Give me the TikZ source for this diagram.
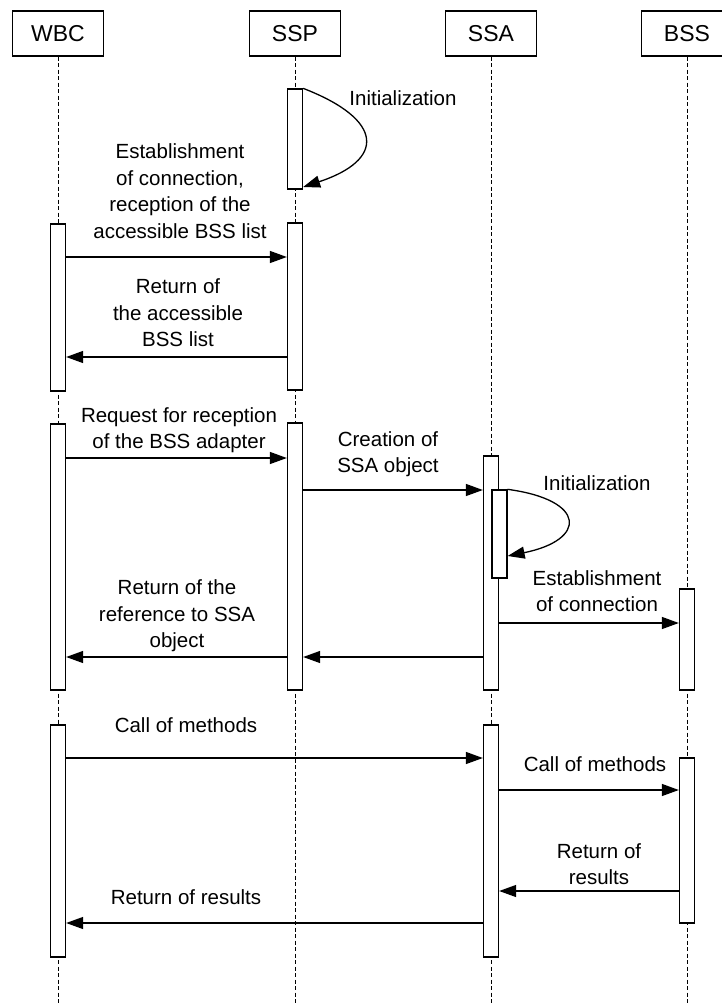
\documentclass[tikz,border=0pt]{standalone}
\usepackage{fontspec}
\setmainfont{Liberation Sans}
\usetikzlibrary{arrows.meta}
\begin{document}
\begin{tikzpicture}[x=1pt,y=-1pt,
  hdr/.style={draw,line width=1.3pt,minimum width=91pt,minimum height=45pt,inner sep=0pt,font=\fontsize{23}{27}\selectfont},
  life/.style={line width=0.9pt,dash pattern=on 4pt off 2.5pt},
  bar/.style={draw,fill=white,line width=1.3pt,minimum width=15pt,inner sep=0pt},
  msg/.style={line width=1.3pt,-{Triangle[length=17pt,width=12pt]}},
  lbl/.style={align=center,inner sep=0pt,font=\fontsize{20.5}{26.5}\selectfont}]
\useasboundingbox (0,0) rectangle (722,1003);
% headers
\node[hdr] (wbc) at (58,33.5) {WBC};
\node[hdr] (ssp) at (295,33.5) {SSP};
\node[hdr] (ssa) at (491,33.5) {SSA};
\node[hdr] (bss) at (687,33.5) {BSS};
% lifelines
\coordinate (wbcE) at (58,1003);
\coordinate (sspE) at (295,1003);
\coordinate (ssaE) at (491,1003);
\coordinate (bssE) at (687,1003);
\draw[life] (wbc.south) -- (wbcE);
\draw[life] (ssp.south) -- (sspE);
\draw[life] (ssa.south) -- (ssaE);
\draw[life] (bss.south) -- (bssE);
% activation bars
\node[bar,minimum height=100pt] (sspI) at (295,139) {};
\node[bar,minimum height=167pt] (wbc1) at (58,307.5) {};
\node[bar,minimum height=167pt] (ssp1) at (295,306.5) {};
\node[bar,minimum height=266pt] (wbc2) at (58,557) {};
\node[bar,minimum height=267pt] (ssp2) at (295,556.5) {};
\node[bar,minimum height=234pt] (ssa1) at (491,573) {};
\node[bar,minimum height=88pt] (ssaI) at (499.5,534) {};
\node[bar,minimum height=101pt] (bss1) at (687,639.5) {};
\node[bar,minimum height=232pt] (wbc3) at (58,841) {};
\node[bar,minimum height=232pt] (ssa2) at (491,841) {};
\node[bar,minimum height=165pt] (bss2) at (687,840.5) {};
% self calls
\draw[msg] (sspI.north east) .. controls (385,120) and (385,160) .. (sspI.east |- 0,187);
\node[lbl] (l1) at (403,98) {Initialization};
\draw[msg] (ssaI.north east) .. controls (587,500) and (587,540) .. (ssaI.east |- 0,556);
\node[lbl] (l6) at (597,483) {Initialization};
% messages
\draw[msg] (wbc1.east |- 0,257) -- (ssp1.west |- 0,257);
\node[lbl] (l2) at (180,191) {Establishment\\of connection,\\reception of the\\accessible BSS list};
\draw[msg] (ssp1.west |- 0,357) -- (wbc1.east |- 0,357);
\node[lbl] (l3) at (178,313) {Return of\\the accessible\\BSS list};
\draw[msg] (wbc2.east |- 0,458) -- (ssp2.west |- 0,458);
\node[lbl] (l4) at (179,430) {Request for reception\\of the BSS adapter};
\draw[msg] (ssp2.east |- 0,490) -- (ssa1.west |- 0,490);
\node[lbl] (l5) at (388,454) {Creation of\\SSA object};
\draw[msg] (ssa1.east |- 0,623) -- (bss1.west |- 0,623);
\node[lbl] (l7) at (597,591) {Establishment\\of connection};
\draw[msg] (ssa1.west |- 0,657) -- (ssp2.east |- 0,657);
\draw[msg] (ssp2.west |- 0,657) -- (wbc2.east |- 0,657);
\node[lbl] (l8) at (177,616) {Return of the\\reference to SSA\\object};
\draw[msg] (wbc3.east |- 0,758) -- (ssa2.west |- 0,758);
\node[lbl] (l9) at (186,725) {Call of methods};
\draw[msg] (ssa2.east |- 0,790) -- (bss2.west |- 0,790);
\node[lbl] (l10) at (595,764) {Call of methods};
\draw[msg] (bss2.west |- 0,891) -- (ssa2.east |- 0,891);
\node[lbl] (l11) at (599,864) {Return of\\results};
\draw[msg] (ssa2.west |- 0,923) -- (wbc3.east |- 0,923);
\node[lbl] (l12) at (186,897) {Return of results};
\end{tikzpicture}
\end{document}
